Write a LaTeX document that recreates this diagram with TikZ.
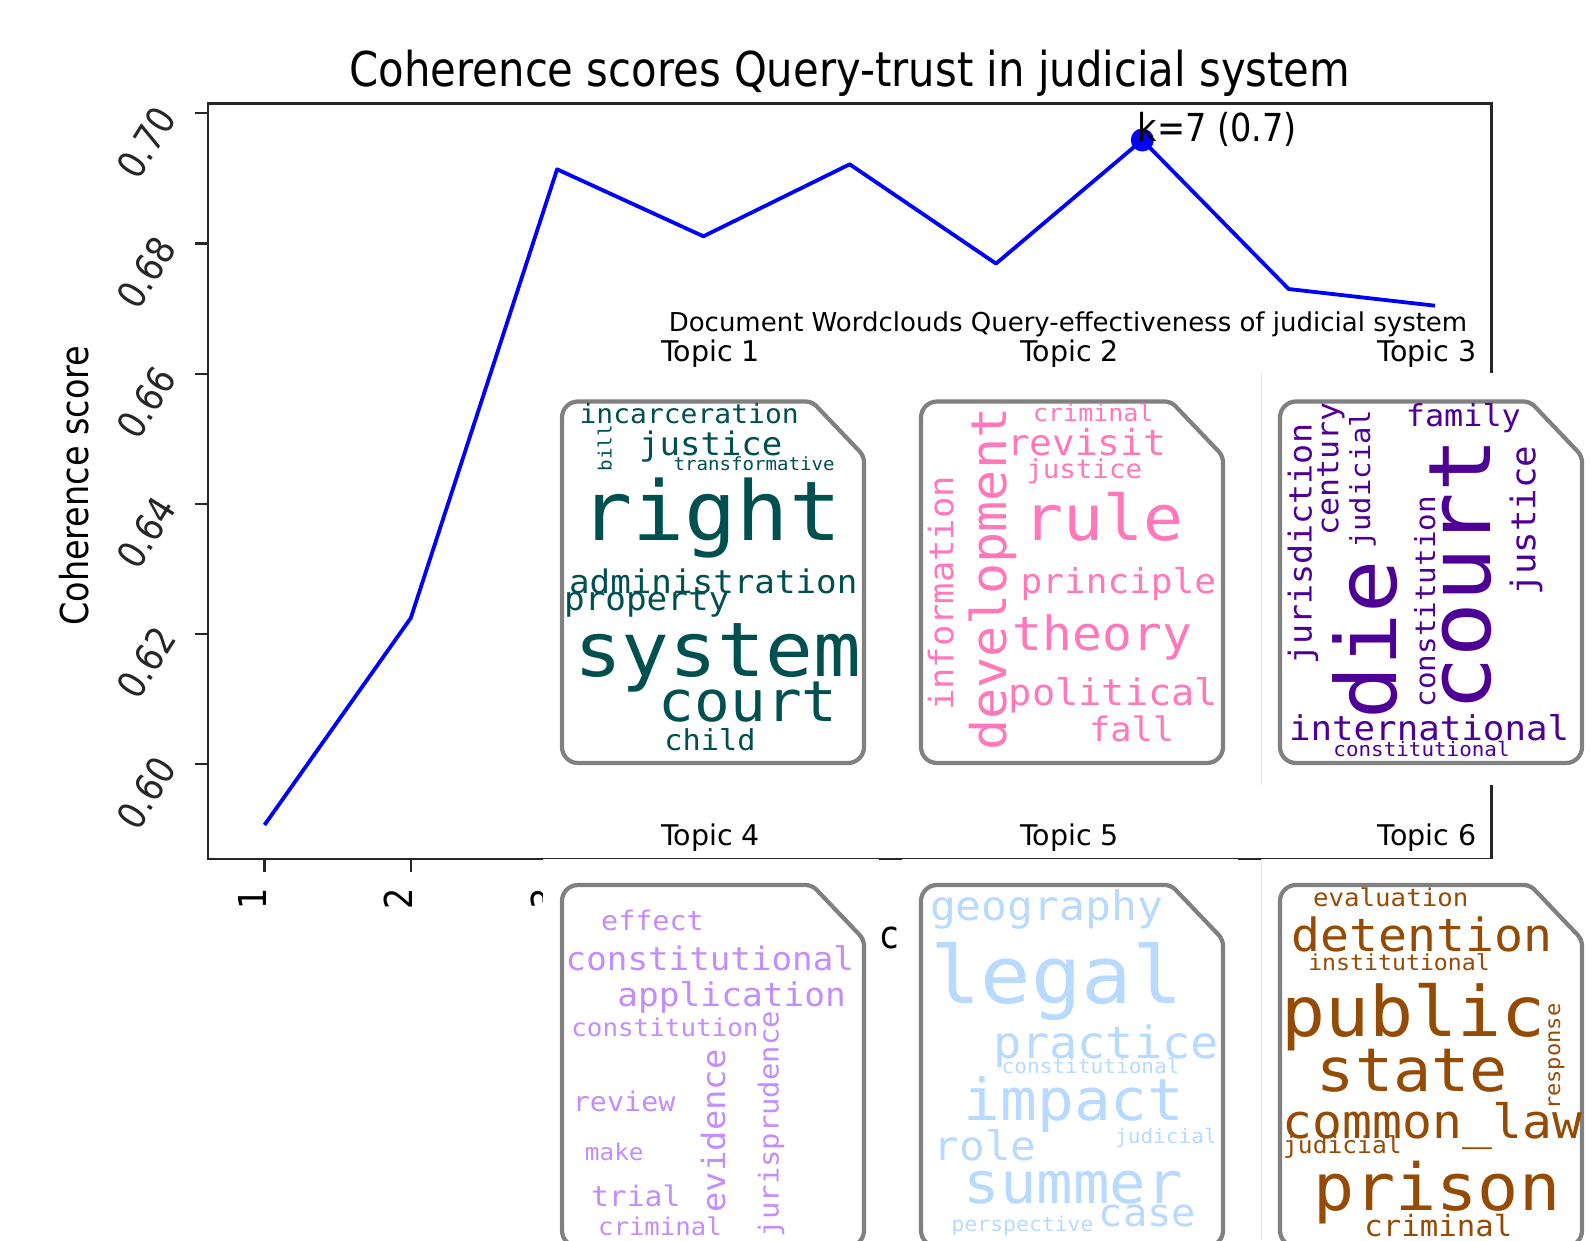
\documentclass[tikz,border=0pt]{standalone}
\usepackage{fontspec}
\newfontfamily\plotfont{DejaVu Sans}
\newfontfamily\wcfont{DejaVu Sans Mono}
\definecolor{cA}{RGB}{0,80,80}
\definecolor{cB}{RGB}{255,120,185}
\definecolor{cC}{RGB}{78,0,150}
\definecolor{cD}{RGB}{195,140,255}
\definecolor{cE}{RGB}{185,218,255}
\definecolor{cF}{RGB}{150,75,5}
\definecolor{plotblue}{RGB}{0,0,255}
\definecolor{spinec}{RGB}{38,38,38}
\definecolor{docgray}{RGB}{128,128,128}
\newcommand\hword[5]{\pgfmathsetmacro\wcX{#2-0.075*#4}\node[wcw,text=#1,yscale=0.95] at (\wcX,#3) {\fontsize{#4}{#4}\selectfont #5};}
\newcommand\vword[5]{\pgfmathsetmacro\wcY{#3+0.075*#4}\node[wcw,text=#1,rotate=90,yscale=0.95] at (#2,\wcY) {\fontsize{#4}{#4}\selectfont #5};}
\newcommand\docshape[2]{\draw[docline,rounded corners=16pt] (#1+19,#2+150) -- (#1+19,#2) [rounded corners=6pt] -- (#1+269,#2) -- (#1+321,#2+54.5) [rounded corners=16pt] -- (#1+321,#2+361.5) -- (#1+19,#2+361.5) -- (#1+19,#2+150);}
\begin{document}
\begin{tikzpicture}[x=1pt,y=-1pt,
  spine/.style={draw=spinec,line width=2.7pt},
  tickmark/.style={draw=spinec,line width=2.2pt},
  ytl/.style={font=\plotfont\fontsize{38.5}{40}\selectfont,inner sep=0pt,rotate=58,xscale=0.87,text=spinec},
  xtl/.style={font=\plotfont\fontsize{38.5}{40}\selectfont,inner sep=0pt,rotate=90,xscale=0.87,anchor=mid east,text=black},
  plottext/.style={font=\plotfont\fontsize{38.5}{40}\selectfont,inner sep=0pt,xscale=0.87,text=black},
  vplottext/.style={font=\plotfont\fontsize{38.5}{40}\selectfont,inner sep=0pt,rotate=90,xscale=0.87,text=black},
  wcw/.style={font=\wcfont,inner sep=0pt,outer sep=0pt,anchor=base west},
  docline/.style={draw=docgray,line width=4.2pt,line join=round},
  topictitle/.style={font=\plotfont\fontsize{28.5}{30}\selectfont,inner sep=0pt,anchor=base,text=black},
  imgbg/.style={fill=white}]
\useasboundingbox (0,0) rectangle (1590,1240);
\clip (0,0) rectangle (1590,1240);
\fill[white] (0,0) rectangle (1590,1240);

% ---------- coherence plot ----------
\node[font=\plotfont\fontsize{48}{50}\selectfont,xscale=0.87,anchor=base,inner sep=0pt] (title) at (850,86.5) {Coherence scores Query-trust in judicial system};
\node[vplottext,anchor=base] (ylab) at (88.6,485.7) {Coherence score};
\foreach \v/\yy in {0.60/764,0.62/633.9,0.64/503.7,0.66/373.6,0.68/243.4,0.70/113.3}{
  \draw[tickmark] (208,\yy) -- (195,\yy);
  \node[ytl] (yt\v) at (146.5,\yy+29) {\v};
}
\foreach \k in {1,...,9}{
  \pgfmathsetmacro\xx{264.5+(\k-1)*146.3}
  \draw[tickmark] (\xx,859) -- (\xx,872);
  \node[xtl] (xt\k) at (\xx,888) {\k};
}
\node[plottext,anchor=base] (xlab) at (890,948) {c};
\draw[spine] (208,103.3) rectangle (1491.8,859);
\coordinate (p1) at (264.5,825);
\coordinate (p2) at (410.8,618);
\coordinate (p3) at (557.1,169.3);
\coordinate (p4) at (703.4,236.3);
\coordinate (p5) at (849.7,164.3);
\coordinate (p6) at (996,263.6);
\coordinate (p7) at (1142.3,140);
\coordinate (p8) at (1288.6,289);
\coordinate (p9) at (1434.9,305.7);
\draw[plotblue,line width=3.8pt,line join=round] (p1) -- (p2) -- (p3) -- (p4) -- (p5) -- (p6) -- (p7) -- (p8) -- (p9);
\fill[plotblue] (p7) circle (11.5);
\node[plottext,anchor=base west] (ann) at (1137.5,141.5) {k=7 (0.7)};

% ---------- word cloud figure ----------
\fill[imgbg] (543,373) rectangle (879,785);
\fill[imgbg] (902,373) rectangle (1238,785);
\fill[imgbg] (1261.5,373) rectangle (1597,785);
\fill[imgbg] (543,858.6) rectangle (879,1240);
\fill[imgbg] (902,858.6) rectangle (1238,1240);
\fill[imgbg] (1261.5,858.6) rectangle (1597,1240);
\draw[black!10,line width=1pt] (1261.5,373) -- (1261.5,785);
\draw[black!10,line width=1pt] (1261.5,858.6) -- (1261.5,1240);

\node[font=\plotfont\fontsize{26}{28}\selectfont,anchor=base,inner sep=0pt] (suptitle) at (1068,331.5) {Document Wordclouds Query-effectiveness of judicial system};
\node[topictitle] (t1) at (710.5,361.5) {Topic 1};
\node[topictitle] (t2) at (1069.5,361.5) {Topic 2};
\node[topictitle] (t3) at (1427,361.5) {Topic 3};
\node[topictitle] (t4) at (710.5,845) {Topic 4};
\node[topictitle] (t5) at (1069.5,845) {Topic 5};
\node[topictitle] (t6) at (1427,845) {Topic 6};

\docshape{543}{401.5}
\docshape{902}{401.5}
\docshape{1261}{401.5}
\docshape{543}{885}
\docshape{902}{885}
\docshape{1261}{885}

% Topic 1
\hword{cA}{581.7}{423.3}{28}{incarceration}
\vword{cA}{611.5}{470}{19.2}{bill}
\hword{cA}{641.7}{455}{34}{justice}
\hword{cA}{675}{470}{19.1}{transformative}
\hword{cA}{586.7}{540}{86.8}{right}
\hword{cA}{571.7}{593.3}{34.2}{administration}
\hword{cA}{566.7}{610}{34.3}{property}
\hword{cA}{580}{676.7}{79.4}{system}
\hword{cA}{663.3}{721.7}{59.4}{court}
\hword{cA}{666.7}{750}{30.3}{child}
% Topic 2
\hword{cB}{1035}{421.7}{25}{criminal}
\vword{cB}{1006.7}{746.7}{51.8}{development}
\hword{cB}{1010}{455}{37.7}{revisit}
\hword{cB}{1028.3}{478.3}{27.5}{justice}
\vword{cB}{953.3}{708.3}{35.5}{information}
\hword{cB}{1028.3}{540}{66.4}{rule}
\hword{cB}{1023.3}{593.3}{36.1}{principle}
\hword{cB}{1016.7}{650}{49.6}{theory}
\hword{cB}{1011.7}{705}{38.6}{political}
\hword{cB}{1091.7}{741.7}{35.4}{fall}
% Topic 3
\hword{cC}{1408.3}{426.7}{31.8}{family}
\vword{cC}{1311.7}{662}{33.3}{jurisdiction}
\vword{cC}{1338.3}{533.3}{31.6}{century}
\vword{cC}{1370}{546.7}{28.9}{judicial}
\vword{cC}{1396.7}{713.3}{88.6}{die}
\vword{cC}{1435}{705}{29.2}{constitution}
\vword{cC}{1490}{705}{90.9}{court}
\vword{cC}{1535.4}{593.3}{35.7}{justice}
\hword{cC}{1291.7}{740}{35.8}{international}
\hword{cC}{1335}{756.7}{20.9}{constitutional}
% Topic 4
\hword{cD}{603.3}{930}{28.4}{effect}
\hword{cD}{568.3}{970}{34.2}{constitutional}
\hword{cD}{620}{1006.7}{34.5}{application}
\hword{cD}{573.3}{1036.7}{25.9}{constitution}
\vword{cD}{778.6}{1235}{28.9}{jurisprudence}
\vword{cD}{725}{1210}{33.9}{evidence}
\hword{cD}{575}{1111.7}{28.4}{review}
\hword{cD}{586.7}{1160}{24.4}{make}
\hword{cD}{593.3}{1206.7}{29.7}{trial}
\hword{cD}{600}{1235}{25.7}{criminal}
% Topic 5
\hword{cE}{933.3}{920}{43}{geography}
\hword{cE}{936.7}{1003.3}{83.9}{legal}
\hword{cE}{996.7}{1058.3}{46.8}{practice}
\hword{cE}{1003.3}{1073.3}{21.1}{constitutional}
\hword{cE}{968.3}{1120}{61.1}{impact}
\hword{cE}{1116.7}{1143.3}{21.1}{judicial}
\hword{cE}{936.7}{1160}{42.8}{role}
\hword{cE}{968.3}{1203.3}{60.7}{summer}
\hword{cE}{1101.7}{1226.7}{40.6}{case}
\hword{cE}{953.3}{1231.7}{21.4}{perspective}
% Topic 6
\hword{cF}{1315}{906.7}{25.8}{evaluation}
\hword{cF}{1295}{951.7}{48.1}{detention}
\hword{cF}{1310}{970}{23.2}{institutional}
\hword{cF}{1286.7}{1036.7}{73.2}{public}
\vword{cF}{1560}{1108.3}{22.1}{response}
\hword{cF}{1321.7}{1091.7}{63.5}{state}
\hword{cF}{1286.7}{1138.3}{49.7}{common\_law}
\hword{cF}{1285}{1153.3}{24.6}{judicial}
\hword{cF}{1318.3}{1210}{68.4}{prison}
\hword{cF}{1366.7}{1236.7}{30.7}{criminal}
\end{tikzpicture}
\end{document}
